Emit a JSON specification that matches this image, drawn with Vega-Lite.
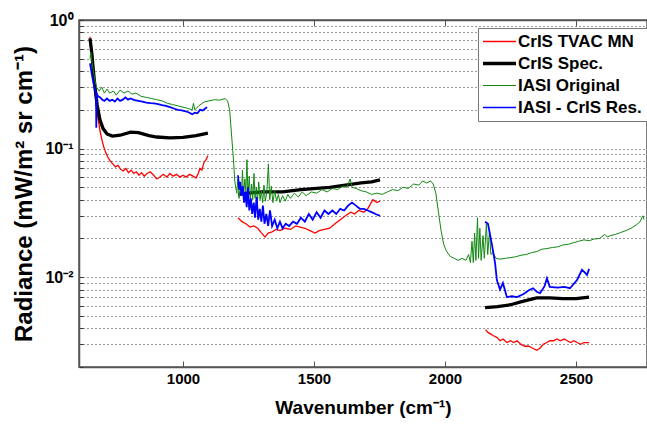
{
 "$schema": "https://vega.github.io/schema/vega-lite/v6.json",
 "width": 568, "height": 347,
 "autosize": {"type": "none"},
 "padding": {"left": 79, "top": 20, "right": 0, "bottom": 57},
 "background": "white",
 "config": {
  "font": "Liberation Sans",
  "view": {"stroke": "#555", "strokeWidth": 1.5},
  "axis": {"domainColor": "#555", "domainWidth": 1.5, "labelColor": "black", "titleColor": "black", "labelFont": "Liberation Sans", "titleFont": "Liberation Sans", "labelFontWeight": "bold", "titleFontWeight": "bold"}
 },
 "data": {"values": [
  {"s":"CrIS TVAC MN","g":1,"wn":645,"rad":0.74},{"s":"CrIS TVAC MN","g":1,"wn":650,"rad":0.55},{"s":"CrIS TVAC MN","g":1,"wn":655,"rad":0.42},{"s":"CrIS TVAC MN","g":1,"wn":660,"rad":0.33},{"s":"CrIS TVAC MN","g":1,"wn":666,"rad":0.25},{"s":"CrIS TVAC MN","g":1,"wn":672,"rad":0.19},{"s":"CrIS TVAC MN","g":1,"wn":678,"rad":0.16},{"s":"CrIS TVAC MN","g":1,"wn":684,"rad":0.135},{"s":"CrIS TVAC MN","g":1,"wn":690,"rad":0.118},{"s":"CrIS TVAC MN","g":1,"wn":697,"rad":0.104},{"s":"CrIS TVAC MN","g":1,"wn":705,"rad":0.093},{"s":"CrIS TVAC MN","g":1,"wn":713,"rad":0.086},{"s":"CrIS TVAC MN","g":1,"wn":722,"rad":0.08},{"s":"CrIS TVAC MN","g":1,"wn":732,"rad":0.076},{"s":"CrIS TVAC MN","g":1,"wn":742,"rad":0.072},{"s":"CrIS TVAC MN","g":1,"wn":752,"rad":0.074},{"s":"CrIS TVAC MN","g":1,"wn":762,"rad":0.069},{"s":"CrIS TVAC MN","g":1,"wn":772,"rad":0.067},{"s":"CrIS TVAC MN","g":1,"wn":782,"rad":0.07},{"s":"CrIS TVAC MN","g":1,"wn":792,"rad":0.065},{"s":"CrIS TVAC MN","g":1,"wn":802,"rad":0.068},{"s":"CrIS TVAC MN","g":1,"wn":812,"rad":0.064},{"s":"CrIS TVAC MN","g":1,"wn":822,"rad":0.066},{"s":"CrIS TVAC MN","g":1,"wn":832,"rad":0.062},{"s":"CrIS TVAC MN","g":1,"wn":842,"rad":0.065},{"s":"CrIS TVAC MN","g":1,"wn":852,"rad":0.061},{"s":"CrIS TVAC MN","g":1,"wn":862,"rad":0.064},{"s":"CrIS TVAC MN","g":1,"wn":875,"rad":0.066},{"s":"CrIS TVAC MN","g":1,"wn":888,"rad":0.062},{"s":"CrIS TVAC MN","g":1,"wn":900,"rad":0.058},{"s":"CrIS TVAC MN","g":1,"wn":912,"rad":0.06},{"s":"CrIS TVAC MN","g":1,"wn":925,"rad":0.063},{"s":"CrIS TVAC MN","g":1,"wn":938,"rad":0.06},{"s":"CrIS TVAC MN","g":1,"wn":950,"rad":0.064},{"s":"CrIS TVAC MN","g":1,"wn":962,"rad":0.061},{"s":"CrIS TVAC MN","g":1,"wn":975,"rad":0.063},{"s":"CrIS TVAC MN","g":1,"wn":988,"rad":0.06},{"s":"CrIS TVAC MN","g":1,"wn":1000,"rad":0.062},{"s":"CrIS TVAC MN","g":1,"wn":1012,"rad":0.06},{"s":"CrIS TVAC MN","g":1,"wn":1025,"rad":0.063},{"s":"CrIS TVAC MN","g":1,"wn":1038,"rad":0.061},{"s":"CrIS TVAC MN","g":1,"wn":1050,"rad":0.059},{"s":"CrIS TVAC MN","g":1,"wn":1058,"rad":0.064},{"s":"CrIS TVAC MN","g":1,"wn":1065,"rad":0.07},{"s":"CrIS TVAC MN","g":1,"wn":1072,"rad":0.068},{"s":"CrIS TVAC MN","g":1,"wn":1080,"rad":0.078},{"s":"CrIS TVAC MN","g":1,"wn":1088,"rad":0.082},{"s":"CrIS TVAC MN","g":1,"wn":1095,"rad":0.088},
  {"s":"CrIS TVAC MN","g":2,"wn":1210,"rad":0.029},{"s":"CrIS TVAC MN","g":2,"wn":1225,"rad":0.027},{"s":"CrIS TVAC MN","g":2,"wn":1240,"rad":0.026},{"s":"CrIS TVAC MN","g":2,"wn":1256,"rad":0.0245},{"s":"CrIS TVAC MN","g":2,"wn":1270,"rad":0.025},{"s":"CrIS TVAC MN","g":2,"wn":1285,"rad":0.024},{"s":"CrIS TVAC MN","g":2,"wn":1300,"rad":0.022},{"s":"CrIS TVAC MN","g":2,"wn":1313,"rad":0.0205},{"s":"CrIS TVAC MN","g":2,"wn":1325,"rad":0.022},{"s":"CrIS TVAC MN","g":2,"wn":1340,"rad":0.0225},{"s":"CrIS TVAC MN","g":2,"wn":1355,"rad":0.0235},{"s":"CrIS TVAC MN","g":2,"wn":1370,"rad":0.023},{"s":"CrIS TVAC MN","g":2,"wn":1390,"rad":0.024},{"s":"CrIS TVAC MN","g":2,"wn":1410,"rad":0.0235},{"s":"CrIS TVAC MN","g":2,"wn":1430,"rad":0.025},{"s":"CrIS TVAC MN","g":2,"wn":1447,"rad":0.0245},{"s":"CrIS TVAC MN","g":2,"wn":1465,"rad":0.024},{"s":"CrIS TVAC MN","g":2,"wn":1485,"rad":0.023},{"s":"CrIS TVAC MN","g":2,"wn":1504,"rad":0.022},{"s":"CrIS TVAC MN","g":2,"wn":1520,"rad":0.023},{"s":"CrIS TVAC MN","g":2,"wn":1540,"rad":0.0235},{"s":"CrIS TVAC MN","g":2,"wn":1560,"rad":0.024},{"s":"CrIS TVAC MN","g":2,"wn":1580,"rad":0.026},{"s":"CrIS TVAC MN","g":2,"wn":1600,"rad":0.028},{"s":"CrIS TVAC MN","g":2,"wn":1620,"rad":0.03},{"s":"CrIS TVAC MN","g":2,"wn":1640,"rad":0.032},{"s":"CrIS TVAC MN","g":2,"wn":1655,"rad":0.031},{"s":"CrIS TVAC MN","g":2,"wn":1670,"rad":0.033},{"s":"CrIS TVAC MN","g":2,"wn":1690,"rad":0.032},{"s":"CrIS TVAC MN","g":2,"wn":1705,"rad":0.034},{"s":"CrIS TVAC MN","g":2,"wn":1715,"rad":0.037},{"s":"CrIS TVAC MN","g":2,"wn":1725,"rad":0.04},{"s":"CrIS TVAC MN","g":2,"wn":1740,"rad":0.038},{"s":"CrIS TVAC MN","g":2,"wn":1752,"rad":0.039},
  {"s":"CrIS TVAC MN","g":3,"wn":2155,"rad":0.0039},{"s":"CrIS TVAC MN","g":3,"wn":2165,"rad":0.0037},{"s":"CrIS TVAC MN","g":3,"wn":2175,"rad":0.0036},{"s":"CrIS TVAC MN","g":3,"wn":2185,"rad":0.0035},{"s":"CrIS TVAC MN","g":3,"wn":2198,"rad":0.0034},{"s":"CrIS TVAC MN","g":3,"wn":2210,"rad":0.0032},{"s":"CrIS TVAC MN","g":3,"wn":2222,"rad":0.0033},{"s":"CrIS TVAC MN","g":3,"wn":2236,"rad":0.0031},{"s":"CrIS TVAC MN","g":3,"wn":2250,"rad":0.0032},{"s":"CrIS TVAC MN","g":3,"wn":2262,"rad":0.0031},{"s":"CrIS TVAC MN","g":3,"wn":2275,"rad":0.0032},{"s":"CrIS TVAC MN","g":3,"wn":2290,"rad":0.003},{"s":"CrIS TVAC MN","g":3,"wn":2305,"rad":0.0029},{"s":"CrIS TVAC MN","g":3,"wn":2320,"rad":0.0029},{"s":"CrIS TVAC MN","g":3,"wn":2335,"rad":0.0028},{"s":"CrIS TVAC MN","g":3,"wn":2350,"rad":0.0027},{"s":"CrIS TVAC MN","g":3,"wn":2362,"rad":0.0028},{"s":"CrIS TVAC MN","g":3,"wn":2375,"rad":0.003},{"s":"CrIS TVAC MN","g":3,"wn":2389,"rad":0.0031},{"s":"CrIS TVAC MN","g":3,"wn":2400,"rad":0.0032},{"s":"CrIS TVAC MN","g":3,"wn":2415,"rad":0.0032},{"s":"CrIS TVAC MN","g":3,"wn":2427,"rad":0.0033},{"s":"CrIS TVAC MN","g":3,"wn":2440,"rad":0.0032},{"s":"CrIS TVAC MN","g":3,"wn":2455,"rad":0.0033},{"s":"CrIS TVAC MN","g":3,"wn":2466,"rad":0.0032},{"s":"CrIS TVAC MN","g":3,"wn":2480,"rad":0.0031},{"s":"CrIS TVAC MN","g":3,"wn":2492,"rad":0.0032},{"s":"CrIS TVAC MN","g":3,"wn":2504,"rad":0.0031},{"s":"CrIS TVAC MN","g":3,"wn":2518,"rad":0.003},{"s":"CrIS TVAC MN","g":3,"wn":2530,"rad":0.0031},{"s":"CrIS TVAC MN","g":3,"wn":2540,"rad":0.0031},{"s":"CrIS TVAC MN","g":3,"wn":2550,"rad":0.0031},
  {"s":"CrIS Spec.","g":1,"wn":645,"rad":0.72},{"s":"CrIS Spec.","g":1,"wn":652,"rad":0.55},{"s":"CrIS Spec.","g":1,"wn":658,"rad":0.4},{"s":"CrIS Spec.","g":1,"wn":664,"rad":0.3},{"s":"CrIS Spec.","g":1,"wn":672,"rad":0.22},{"s":"CrIS Spec.","g":1,"wn":683,"rad":0.167},{"s":"CrIS Spec.","g":1,"wn":695,"rad":0.143},{"s":"CrIS Spec.","g":1,"wn":710,"rad":0.13},{"s":"CrIS Spec.","g":1,"wn":730,"rad":0.125},{"s":"CrIS Spec.","g":1,"wn":760,"rad":0.127},{"s":"CrIS Spec.","g":1,"wn":800,"rad":0.134},{"s":"CrIS Spec.","g":1,"wn":830,"rad":0.133},{"s":"CrIS Spec.","g":1,"wn":870,"rad":0.126},{"s":"CrIS Spec.","g":1,"wn":900,"rad":0.123},{"s":"CrIS Spec.","g":1,"wn":950,"rad":0.121},{"s":"CrIS Spec.","g":1,"wn":1000,"rad":0.122},{"s":"CrIS Spec.","g":1,"wn":1050,"rad":0.126},{"s":"CrIS Spec.","g":1,"wn":1095,"rad":0.132},
  {"s":"CrIS Spec.","g":2,"wn":1210,"rad":0.044},{"s":"CrIS Spec.","g":2,"wn":1250,"rad":0.045},{"s":"CrIS Spec.","g":2,"wn":1300,"rad":0.046},{"s":"CrIS Spec.","g":2,"wn":1380,"rad":0.046},{"s":"CrIS Spec.","g":2,"wn":1450,"rad":0.048},{"s":"CrIS Spec.","g":2,"wn":1510,"rad":0.049},{"s":"CrIS Spec.","g":2,"wn":1560,"rad":0.05},{"s":"CrIS Spec.","g":2,"wn":1620,"rad":0.052},{"s":"CrIS Spec.","g":2,"wn":1680,"rad":0.054},{"s":"CrIS Spec.","g":2,"wn":1720,"rad":0.055},{"s":"CrIS Spec.","g":2,"wn":1752,"rad":0.057},
  {"s":"CrIS Spec.","g":3,"wn":2153,"rad":0.0058},{"s":"CrIS Spec.","g":3,"wn":2200,"rad":0.0059},{"s":"CrIS Spec.","g":3,"wn":2250,"rad":0.0061},{"s":"CrIS Spec.","g":3,"wn":2300,"rad":0.0065},{"s":"CrIS Spec.","g":3,"wn":2350,"rad":0.0069},{"s":"CrIS Spec.","g":3,"wn":2400,"rad":0.0069},{"s":"CrIS Spec.","g":3,"wn":2450,"rad":0.0068},{"s":"CrIS Spec.","g":3,"wn":2500,"rad":0.0068},{"s":"CrIS Spec.","g":3,"wn":2550,"rad":0.007},
  {"s":"IASI Original","g":1,"wn":645,"rad":0.5},{"s":"IASI Original","g":1,"wn":648,"rad":0.56},{"s":"IASI Original","g":1,"wn":652,"rad":0.48},{"s":"IASI Original","g":1,"wn":658,"rad":0.4},{"s":"IASI Original","g":1,"wn":664,"rad":0.34},{"s":"IASI Original","g":1,"wn":670,"rad":0.3},{"s":"IASI Original","g":1,"wn":680,"rad":0.28},{"s":"IASI Original","g":1,"wn":690,"rad":0.3},{"s":"IASI Original","g":1,"wn":700,"rad":0.27},{"s":"IASI Original","g":1,"wn":710,"rad":0.29},{"s":"IASI Original","g":1,"wn":720,"rad":0.27},{"s":"IASI Original","g":1,"wn":735,"rad":0.28},{"s":"IASI Original","g":1,"wn":745,"rad":0.26},{"s":"IASI Original","g":1,"wn":760,"rad":0.285},{"s":"IASI Original","g":1,"wn":775,"rad":0.27},{"s":"IASI Original","g":1,"wn":790,"rad":0.28},{"s":"IASI Original","g":1,"wn":805,"rad":0.265},{"s":"IASI Original","g":1,"wn":820,"rad":0.27},{"s":"IASI Original","g":1,"wn":840,"rad":0.255},{"s":"IASI Original","g":1,"wn":860,"rad":0.25},{"s":"IASI Original","g":1,"wn":880,"rad":0.245},{"s":"IASI Original","g":1,"wn":900,"rad":0.24},{"s":"IASI Original","g":1,"wn":920,"rad":0.235},{"s":"IASI Original","g":1,"wn":940,"rad":0.225},{"s":"IASI Original","g":1,"wn":960,"rad":0.22},{"s":"IASI Original","g":1,"wn":980,"rad":0.215},{"s":"IASI Original","g":1,"wn":1000,"rad":0.21},{"s":"IASI Original","g":1,"wn":1020,"rad":0.205},{"s":"IASI Original","g":1,"wn":1035,"rad":0.2},{"s":"IASI Original","g":1,"wn":1040,"rad":0.225},{"s":"IASI Original","g":1,"wn":1045,"rad":0.2},{"s":"IASI Original","g":1,"wn":1060,"rad":0.215},{"s":"IASI Original","g":1,"wn":1080,"rad":0.23},{"s":"IASI Original","g":1,"wn":1100,"rad":0.235},{"s":"IASI Original","g":1,"wn":1120,"rad":0.24},{"s":"IASI Original","g":1,"wn":1140,"rad":0.238},{"s":"IASI Original","g":1,"wn":1160,"rad":0.245},{"s":"IASI Original","g":1,"wn":1170,"rad":0.235},{"s":"IASI Original","g":1,"wn":1178,"rad":0.2},{"s":"IASI Original","g":1,"wn":1185,"rad":0.13},{"s":"IASI Original","g":1,"wn":1192,"rad":0.085},{"s":"IASI Original","g":1,"wn":1198,"rad":0.055},{"s":"IASI Original","g":1,"wn":1205,"rad":0.045},{"s":"IASI Original","g":1,"wn":1210,"rad":0.058},{"s":"IASI Original","g":1,"wn":1214,"rad":0.041},{"s":"IASI Original","g":1,"wn":1219,"rad":0.052},{"s":"IASI Original","g":1,"wn":1223,"rad":0.044},{"s":"IASI Original","g":1,"wn":1227,"rad":0.068},{"s":"IASI Original","g":1,"wn":1231,"rad":0.042},{"s":"IASI Original","g":1,"wn":1236,"rad":0.058},{"s":"IASI Original","g":1,"wn":1240,"rad":0.046},{"s":"IASI Original","g":1,"wn":1244,"rad":0.082},{"s":"IASI Original","g":1,"wn":1248,"rad":0.043},{"s":"IASI Original","g":1,"wn":1253,"rad":0.061},{"s":"IASI Original","g":1,"wn":1257,"rad":0.041},{"s":"IASI Original","g":1,"wn":1262,"rad":0.053},{"s":"IASI Original","g":1,"wn":1266,"rad":0.04},{"s":"IASI Original","g":1,"wn":1271,"rad":0.064},{"s":"IASI Original","g":1,"wn":1275,"rad":0.041},{"s":"IASI Original","g":1,"wn":1280,"rad":0.05},{"s":"IASI Original","g":1,"wn":1284,"rad":0.038},{"s":"IASI Original","g":1,"wn":1289,"rad":0.055},{"s":"IASI Original","g":1,"wn":1294,"rad":0.04},{"s":"IASI Original","g":1,"wn":1299,"rad":0.047},{"s":"IASI Original","g":1,"wn":1304,"rad":0.038},{"s":"IASI Original","g":1,"wn":1309,"rad":0.052},{"s":"IASI Original","g":1,"wn":1314,"rad":0.039},{"s":"IASI Original","g":1,"wn":1320,"rad":0.046},{"s":"IASI Original","g":1,"wn":1326,"rad":0.076},{"s":"IASI Original","g":1,"wn":1331,"rad":0.04},{"s":"IASI Original","g":1,"wn":1337,"rad":0.051},{"s":"IASI Original","g":1,"wn":1343,"rad":0.038},{"s":"IASI Original","g":1,"wn":1350,"rad":0.047},{"s":"IASI Original","g":1,"wn":1357,"rad":0.039},{"s":"IASI Original","g":1,"wn":1364,"rad":0.044},{"s":"IASI Original","g":1,"wn":1370,"rad":0.038},{"s":"IASI Original","g":1,"wn":1380,"rad":0.043},{"s":"IASI Original","g":1,"wn":1390,"rad":0.039},{"s":"IASI Original","g":1,"wn":1400,"rad":0.044},{"s":"IASI Original","g":1,"wn":1410,"rad":0.041},{"s":"IASI Original","g":1,"wn":1425,"rad":0.045},{"s":"IASI Original","g":1,"wn":1440,"rad":0.042},{"s":"IASI Original","g":1,"wn":1455,"rad":0.046},{"s":"IASI Original","g":1,"wn":1470,"rad":0.043},{"s":"IASI Original","g":1,"wn":1490,"rad":0.046},{"s":"IASI Original","g":1,"wn":1510,"rad":0.045},{"s":"IASI Original","g":1,"wn":1530,"rad":0.048},{"s":"IASI Original","g":1,"wn":1550,"rad":0.046},{"s":"IASI Original","g":1,"wn":1570,"rad":0.049},{"s":"IASI Original","g":1,"wn":1590,"rad":0.048},{"s":"IASI Original","g":1,"wn":1610,"rad":0.051},{"s":"IASI Original","g":1,"wn":1625,"rad":0.05},{"s":"IASI Original","g":1,"wn":1638,"rad":0.058},{"s":"IASI Original","g":1,"wn":1645,"rad":0.05},{"s":"IASI Original","g":1,"wn":1660,"rad":0.049},{"s":"IASI Original","g":1,"wn":1680,"rad":0.047},{"s":"IASI Original","g":1,"wn":1700,"rad":0.046},{"s":"IASI Original","g":1,"wn":1720,"rad":0.044},{"s":"IASI Original","g":1,"wn":1740,"rad":0.045},{"s":"IASI Original","g":1,"wn":1760,"rad":0.044},{"s":"IASI Original","g":1,"wn":1780,"rad":0.046},{"s":"IASI Original","g":1,"wn":1800,"rad":0.048},{"s":"IASI Original","g":1,"wn":1820,"rad":0.047},{"s":"IASI Original","g":1,"wn":1840,"rad":0.05},{"s":"IASI Original","g":1,"wn":1860,"rad":0.049},{"s":"IASI Original","g":1,"wn":1880,"rad":0.053},{"s":"IASI Original","g":1,"wn":1900,"rad":0.052},{"s":"IASI Original","g":1,"wn":1915,"rad":0.056},{"s":"IASI Original","g":1,"wn":1930,"rad":0.054},{"s":"IASI Original","g":1,"wn":1945,"rad":0.056},{"s":"IASI Original","g":1,"wn":1955,"rad":0.053},{"s":"IASI Original","g":1,"wn":1965,"rad":0.045},{"s":"IASI Original","g":1,"wn":1975,"rad":0.032},{"s":"IASI Original","g":1,"wn":1985,"rad":0.023},{"s":"IASI Original","g":1,"wn":1995,"rad":0.018},{"s":"IASI Original","g":1,"wn":2005,"rad":0.016},{"s":"IASI Original","g":1,"wn":2020,"rad":0.0145},{"s":"IASI Original","g":1,"wn":2035,"rad":0.014},{"s":"IASI Original","g":1,"wn":2050,"rad":0.0135},{"s":"IASI Original","g":1,"wn":2065,"rad":0.014},{"s":"IASI Original","g":1,"wn":2080,"rad":0.0135},{"s":"IASI Original","g":1,"wn":2090,"rad":0.015},{"s":"IASI Original","g":1,"wn":2097,"rad":0.013},{"s":"IASI Original","g":1,"wn":2103,"rad":0.019},{"s":"IASI Original","g":1,"wn":2108,"rad":0.013},{"s":"IASI Original","g":1,"wn":2113,"rad":0.022},{"s":"IASI Original","g":1,"wn":2118,"rad":0.0135},{"s":"IASI Original","g":1,"wn":2124,"rad":0.029},{"s":"IASI Original","g":1,"wn":2128,"rad":0.014},{"s":"IASI Original","g":1,"wn":2133,"rad":0.024},{"s":"IASI Original","g":1,"wn":2138,"rad":0.0135},{"s":"IASI Original","g":1,"wn":2145,"rad":0.021},{"s":"IASI Original","g":1,"wn":2150,"rad":0.014},{"s":"IASI Original","g":1,"wn":2158,"rad":0.026},{"s":"IASI Original","g":1,"wn":2163,"rad":0.015},{"s":"IASI Original","g":1,"wn":2170,"rad":0.023},{"s":"IASI Original","g":1,"wn":2175,"rad":0.015},{"s":"IASI Original","g":1,"wn":2183,"rad":0.0155},{"s":"IASI Original","g":1,"wn":2195,"rad":0.014},{"s":"IASI Original","g":1,"wn":2210,"rad":0.0138},{"s":"IASI Original","g":1,"wn":2230,"rad":0.014},{"s":"IASI Original","g":1,"wn":2250,"rad":0.0142},{"s":"IASI Original","g":1,"wn":2270,"rad":0.0144},{"s":"IASI Original","g":1,"wn":2290,"rad":0.0148},{"s":"IASI Original","g":1,"wn":2310,"rad":0.015},{"s":"IASI Original","g":1,"wn":2330,"rad":0.0155},{"s":"IASI Original","g":1,"wn":2350,"rad":0.0158},{"s":"IASI Original","g":1,"wn":2370,"rad":0.0165},{"s":"IASI Original","g":1,"wn":2390,"rad":0.0167},{"s":"IASI Original","g":1,"wn":2410,"rad":0.017},{"s":"IASI Original","g":1,"wn":2430,"rad":0.0172},{"s":"IASI Original","g":1,"wn":2450,"rad":0.0178},{"s":"IASI Original","g":1,"wn":2470,"rad":0.018},{"s":"IASI Original","g":1,"wn":2490,"rad":0.0185},{"s":"IASI Original","g":1,"wn":2510,"rad":0.019},{"s":"IASI Original","g":1,"wn":2530,"rad":0.0195},{"s":"IASI Original","g":1,"wn":2550,"rad":0.0192},{"s":"IASI Original","g":1,"wn":2570,"rad":0.0198},{"s":"IASI Original","g":1,"wn":2590,"rad":0.02},{"s":"IASI Original","g":1,"wn":2610,"rad":0.0215},{"s":"IASI Original","g":1,"wn":2620,"rad":0.0205},{"s":"IASI Original","g":1,"wn":2630,"rad":0.021},{"s":"IASI Original","g":1,"wn":2650,"rad":0.0215},{"s":"IASI Original","g":1,"wn":2670,"rad":0.0222},{"s":"IASI Original","g":1,"wn":2690,"rad":0.023},{"s":"IASI Original","g":1,"wn":2710,"rad":0.024},{"s":"IASI Original","g":1,"wn":2730,"rad":0.0255},{"s":"IASI Original","g":1,"wn":2745,"rad":0.027},{"s":"IASI Original","g":1,"wn":2755,"rad":0.03},{"s":"IASI Original","g":1,"wn":2760,"rad":0.028},
  {"s":"IASI - CrIS Res.","g":1,"wn":645,"rad":0.46},{"s":"IASI - CrIS Res.","g":1,"wn":650,"rad":0.4},{"s":"IASI - CrIS Res.","g":1,"wn":655,"rad":0.35},{"s":"IASI - CrIS Res.","g":1,"wn":660,"rad":0.31},{"s":"IASI - CrIS Res.","g":1,"wn":665,"rad":0.28},{"s":"IASI - CrIS Res.","g":1,"wn":668,"rad":0.27},{"s":"IASI - CrIS Res.","g":1,"wn":669,"rad":0.145},{"s":"IASI - CrIS Res.","g":1,"wn":670,"rad":0.27},{"s":"IASI - CrIS Res.","g":1,"wn":676,"rad":0.255},{"s":"IASI - CrIS Res.","g":1,"wn":684,"rad":0.25},{"s":"IASI - CrIS Res.","g":1,"wn":692,"rad":0.24},{"s":"IASI - CrIS Res.","g":1,"wn":700,"rad":0.235},{"s":"IASI - CrIS Res.","g":1,"wn":710,"rad":0.245},{"s":"IASI - CrIS Res.","g":1,"wn":720,"rad":0.235},{"s":"IASI - CrIS Res.","g":1,"wn":730,"rad":0.24},{"s":"IASI - CrIS Res.","g":1,"wn":740,"rad":0.232},{"s":"IASI - CrIS Res.","g":1,"wn":750,"rad":0.245},{"s":"IASI - CrIS Res.","g":1,"wn":760,"rad":0.235},{"s":"IASI - CrIS Res.","g":1,"wn":770,"rad":0.24},{"s":"IASI - CrIS Res.","g":1,"wn":780,"rad":0.25},{"s":"IASI - CrIS Res.","g":1,"wn":790,"rad":0.24},{"s":"IASI - CrIS Res.","g":1,"wn":800,"rad":0.245},{"s":"IASI - CrIS Res.","g":1,"wn":815,"rad":0.238},{"s":"IASI - CrIS Res.","g":1,"wn":830,"rad":0.235},{"s":"IASI - CrIS Res.","g":1,"wn":845,"rad":0.232},{"s":"IASI - CrIS Res.","g":1,"wn":860,"rad":0.228},{"s":"IASI - CrIS Res.","g":1,"wn":875,"rad":0.226},{"s":"IASI - CrIS Res.","g":1,"wn":890,"rad":0.225},{"s":"IASI - CrIS Res.","g":1,"wn":905,"rad":0.222},{"s":"IASI - CrIS Res.","g":1,"wn":920,"rad":0.218},{"s":"IASI - CrIS Res.","g":1,"wn":935,"rad":0.215},{"s":"IASI - CrIS Res.","g":1,"wn":950,"rad":0.21},{"s":"IASI - CrIS Res.","g":1,"wn":965,"rad":0.205},{"s":"IASI - CrIS Res.","g":1,"wn":980,"rad":0.2},{"s":"IASI - CrIS Res.","g":1,"wn":995,"rad":0.198},{"s":"IASI - CrIS Res.","g":1,"wn":1010,"rad":0.195},{"s":"IASI - CrIS Res.","g":1,"wn":1025,"rad":0.19},{"s":"IASI - CrIS Res.","g":1,"wn":1035,"rad":0.185},{"s":"IASI - CrIS Res.","g":1,"wn":1045,"rad":0.19},{"s":"IASI - CrIS Res.","g":1,"wn":1055,"rad":0.188},{"s":"IASI - CrIS Res.","g":1,"wn":1065,"rad":0.2},{"s":"IASI - CrIS Res.","g":1,"wn":1075,"rad":0.198},{"s":"IASI - CrIS Res.","g":1,"wn":1085,"rad":0.205},{"s":"IASI - CrIS Res.","g":1,"wn":1092,"rad":0.21},
  {"s":"IASI - CrIS Res.","g":2,"wn":1210,"rad":0.062},{"s":"IASI - CrIS Res.","g":2,"wn":1214,"rad":0.048},{"s":"IASI - CrIS Res.","g":2,"wn":1218,"rad":0.055},{"s":"IASI - CrIS Res.","g":2,"wn":1223,"rad":0.043},{"s":"IASI - CrIS Res.","g":2,"wn":1228,"rad":0.051},{"s":"IASI - CrIS Res.","g":2,"wn":1233,"rad":0.038},{"s":"IASI - CrIS Res.","g":2,"wn":1238,"rad":0.046},{"s":"IASI - CrIS Res.","g":2,"wn":1243,"rad":0.035},{"s":"IASI - CrIS Res.","g":2,"wn":1248,"rad":0.05},{"s":"IASI - CrIS Res.","g":2,"wn":1253,"rad":0.033},{"s":"IASI - CrIS Res.","g":2,"wn":1259,"rad":0.041},{"s":"IASI - CrIS Res.","g":2,"wn":1264,"rad":0.031},{"s":"IASI - CrIS Res.","g":2,"wn":1270,"rad":0.038},{"s":"IASI - CrIS Res.","g":2,"wn":1275,"rad":0.029},{"s":"IASI - CrIS Res.","g":2,"wn":1281,"rad":0.042},{"s":"IASI - CrIS Res.","g":2,"wn":1287,"rad":0.028},{"s":"IASI - CrIS Res.","g":2,"wn":1293,"rad":0.034},{"s":"IASI - CrIS Res.","g":2,"wn":1299,"rad":0.027},{"s":"IASI - CrIS Res.","g":2,"wn":1305,"rad":0.036},{"s":"IASI - CrIS Res.","g":2,"wn":1311,"rad":0.026},{"s":"IASI - CrIS Res.","g":2,"wn":1318,"rad":0.031},{"s":"IASI - CrIS Res.","g":2,"wn":1325,"rad":0.025},{"s":"IASI - CrIS Res.","g":2,"wn":1332,"rad":0.033},{"s":"IASI - CrIS Res.","g":2,"wn":1340,"rad":0.025},{"s":"IASI - CrIS Res.","g":2,"wn":1350,"rad":0.028},{"s":"IASI - CrIS Res.","g":2,"wn":1360,"rad":0.024},{"s":"IASI - CrIS Res.","g":2,"wn":1370,"rad":0.027},{"s":"IASI - CrIS Res.","g":2,"wn":1380,"rad":0.024},{"s":"IASI - CrIS Res.","g":2,"wn":1392,"rad":0.026},{"s":"IASI - CrIS Res.","g":2,"wn":1405,"rad":0.025},{"s":"IASI - CrIS Res.","g":2,"wn":1420,"rad":0.027},{"s":"IASI - CrIS Res.","g":2,"wn":1435,"rad":0.026},{"s":"IASI - CrIS Res.","g":2,"wn":1450,"rad":0.029},{"s":"IASI - CrIS Res.","g":2,"wn":1465,"rad":0.027},{"s":"IASI - CrIS Res.","g":2,"wn":1480,"rad":0.031},{"s":"IASI - CrIS Res.","g":2,"wn":1495,"rad":0.028},{"s":"IASI - CrIS Res.","g":2,"wn":1510,"rad":0.032},{"s":"IASI - CrIS Res.","g":2,"wn":1525,"rad":0.029},{"s":"IASI - CrIS Res.","g":2,"wn":1540,"rad":0.033},{"s":"IASI - CrIS Res.","g":2,"wn":1555,"rad":0.031},{"s":"IASI - CrIS Res.","g":2,"wn":1570,"rad":0.033},{"s":"IASI - CrIS Res.","g":2,"wn":1585,"rad":0.031},{"s":"IASI - CrIS Res.","g":2,"wn":1600,"rad":0.034},{"s":"IASI - CrIS Res.","g":2,"wn":1615,"rad":0.033},{"s":"IASI - CrIS Res.","g":2,"wn":1630,"rad":0.036},{"s":"IASI - CrIS Res.","g":2,"wn":1645,"rad":0.038},{"s":"IASI - CrIS Res.","g":2,"wn":1660,"rad":0.036},{"s":"IASI - CrIS Res.","g":2,"wn":1675,"rad":0.034},{"s":"IASI - CrIS Res.","g":2,"wn":1690,"rad":0.034},{"s":"IASI - CrIS Res.","g":2,"wn":1705,"rad":0.033},{"s":"IASI - CrIS Res.","g":2,"wn":1720,"rad":0.032},{"s":"IASI - CrIS Res.","g":2,"wn":1735,"rad":0.031},{"s":"IASI - CrIS Res.","g":2,"wn":1752,"rad":0.03},
  {"s":"IASI - CrIS Res.","g":3,"wn":2153,"rad":0.027},{"s":"IASI - CrIS Res.","g":3,"wn":2164,"rad":0.026},{"s":"IASI - CrIS Res.","g":3,"wn":2179,"rad":0.018},{"s":"IASI - CrIS Res.","g":3,"wn":2191,"rad":0.0129},{"s":"IASI - CrIS Res.","g":3,"wn":2198,"rad":0.0095},{"s":"IASI - CrIS Res.","g":3,"wn":2210,"rad":0.008},{"s":"IASI - CrIS Res.","g":3,"wn":2221,"rad":0.009},{"s":"IASI - CrIS Res.","g":3,"wn":2236,"rad":0.007},{"s":"IASI - CrIS Res.","g":3,"wn":2255,"rad":0.0071},{"s":"IASI - CrIS Res.","g":3,"wn":2275,"rad":0.007},{"s":"IASI - CrIS Res.","g":3,"wn":2300,"rad":0.0074},{"s":"IASI - CrIS Res.","g":3,"wn":2320,"rad":0.0079},{"s":"IASI - CrIS Res.","g":3,"wn":2336,"rad":0.0082},{"s":"IASI - CrIS Res.","g":3,"wn":2350,"rad":0.0077},{"s":"IASI - CrIS Res.","g":3,"wn":2363,"rad":0.0075},{"s":"IASI - CrIS Res.","g":3,"wn":2380,"rad":0.0085},{"s":"IASI - CrIS Res.","g":3,"wn":2389,"rad":0.0098},{"s":"IASI - CrIS Res.","g":3,"wn":2400,"rad":0.0084},{"s":"IASI - CrIS Res.","g":3,"wn":2430,"rad":0.0083},{"s":"IASI - CrIS Res.","g":3,"wn":2455,"rad":0.0084},{"s":"IASI - CrIS Res.","g":3,"wn":2477,"rad":0.0082},{"s":"IASI - CrIS Res.","g":3,"wn":2504,"rad":0.0095},{"s":"IASI - CrIS Res.","g":3,"wn":2523,"rad":0.0114},{"s":"IASI - CrIS Res.","g":3,"wn":2535,"rad":0.0108},{"s":"IASI - CrIS Res.","g":3,"wn":2542,"rad":0.0104},{"s":"IASI - CrIS Res.","g":3,"wn":2550,"rad":0.0116}
 ]},
 "encoding": {
  "y": {"field": "rad", "type": "quantitative",
   "scale": {"type": "log", "domain": [0.002, 1], "nice": false},
   "axis": {"values": [0.002,0.003,0.004,0.005,0.006,0.007,0.008,0.009,0.01,0.02,0.03,0.04,0.05,0.06,0.07,0.08,0.09,0.1,0.2,0.3,0.4,0.5,0.6,0.7,0.8,0.9,1],
    "labelExpr": "datum.value == 1 ? '10⁰' : datum.value == 0.1 ? '10⁻¹' : datum.value == 0.01 ? '10⁻²' : ''",
    "grid": true, "gridDash": [1, 3], "gridColor": "#333", "gridWidth": 1,
    "tickSize": -4, "tickColor": "#333", "labelPadding": 10, "labelFontSize": 16,
    "labelOverlap": false, "labelBound": false, "labelFlush": false,
    "title": "Radiance (mW/m² sr cm⁻¹)", "titleFontSize": 24, "titlePadding": 8}},
  "color": {"field": "s", "type": "nominal",
   "scale": {"domain": ["CrIS TVAC MN", "CrIS Spec.", "IASI Original", "IASI - CrIS Res."], "range": ["#ff0000", "#000000", "#118811", "#0000ff"]},
   "legend": {"orient": "none", "legendX": 399, "legendY": 8, "title": null,
    "symbolType": "M-1.5,0H1.5", "symbolSize": 484, "symbolOffset": 8,
    "symbolStrokeWidth": {"expr": "datum.value === 'CrIS Spec.' ? 3.5 : datum.value === 'IASI - CrIS Res.' ? 1.5 : datum.value === 'CrIS TVAC MN' ? 1.3 : 1"},
    "labelFontSize": 17, "labelFontWeight": "bold", "labelFont": "Liberation Sans", "labelColor": "black",
    "fillColor": "white", "strokeColor": "#777", "padding": 5, "rowPadding": 4, "labelOffset": 10}},
  "detail": {"field": "g", "type": "nominal"}
 },
 "layer": [
  {"transform": [{"filter": "datum.s === 'CrIS TVAC MN'"}], "mark": {"type": "line", "clip": true, "strokeWidth": 1.3},
   "encoding": {"x": {"field": "wn", "type": "quantitative", "scale": {"domain": [603, 2771], "nice": false, "zero": false},
    "axis": {"orient": "bottom", "values": [1000, 1500, 2000, 2500], "format": "d", "grid": false, "tickSize": -6, "tickColor": "#555", "labelFontSize": 15, "labelPadding": 10,
     "title": "Wavenumber (cm⁻¹)", "titleFontSize": 19, "titlePadding": 12}}}},
  {"transform": [{"filter": "datum.s === 'CrIS Spec.'"}], "mark": {"type": "line", "clip": true, "strokeWidth": 3.3},
   "encoding": {"x": {"field": "wn", "type": "quantitative", "scale": {"domain": [603, 2771], "nice": false, "zero": false},
    "axis": {"orient": "top", "values": [1000, 1500, 2000, 2500], "grid": false, "tickSize": -6, "tickColor": "#555", "labels": false, "title": null}}}},
  {"transform": [{"filter": "datum.s === 'IASI Original'"}], "mark": {"type": "line", "clip": true, "strokeWidth": 1},
   "encoding": {"x": {"field": "wn", "type": "quantitative", "scale": {"domain": [603, 2771], "nice": false, "zero": false}, "axis": null}}},
  {"transform": [{"filter": "datum.s === 'IASI - CrIS Res.'"}], "mark": {"type": "line", "clip": true, "strokeWidth": 1.8},
   "encoding": {"x": {"field": "wn", "type": "quantitative", "scale": {"domain": [603, 2771], "nice": false, "zero": false}, "axis": null}}}
 ],
 "resolve": {"axis": {"x": "independent"}}
}
